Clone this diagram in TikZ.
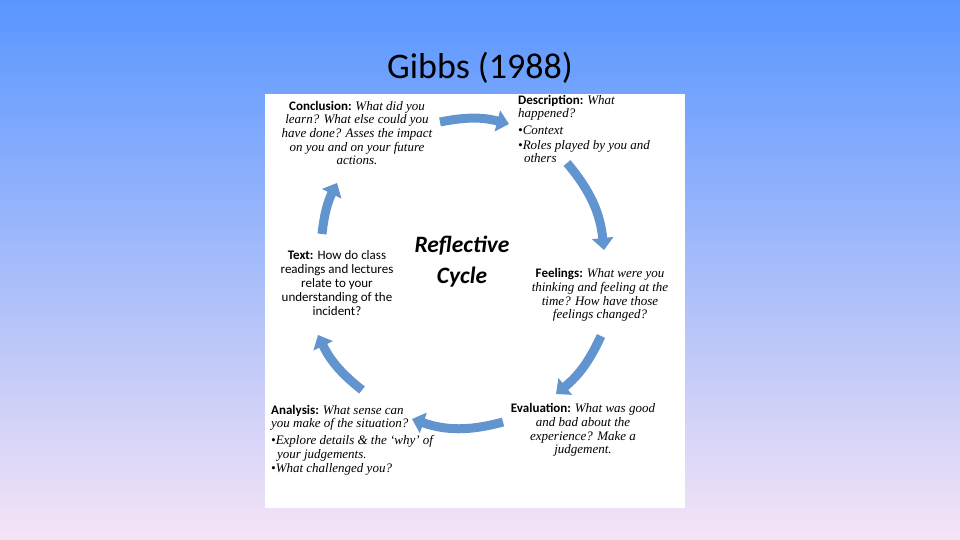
\documentclass[tikz,border=0pt]{standalone}
\usepackage{fontspec}
\setmainfont{Carlito}
\newfontfamily\cambria{Liberation Serif}
\usetikzlibrary{arrows.meta}
\definecolor{skytop}{RGB}{88,150,255}
\definecolor{skymid}{RGB}{165,203,242}
\definecolor{skylow}{RGB}{246,228,246}
\definecolor{cyclearrow}{RGB}{98,148,208}

\begin{document}
\begin{tikzpicture}[x=1pt, y=-1pt,
    stage/.style={inner sep=0pt, font=\fontsize{13}{13.7}\selectfont},
    cyc/.style={draw=cyclearrow, line width=9pt, -{Triangle[width=21pt, length=12pt]}}]
    \def\q#1{{\cambria\itshape #1}}
    \def\hd#1{\textbf{#1}}
    % backdrop and panel
    \shade[top color=skytop, middle color=skymid, bottom color=skylow] (0,0) rectangle (960,540);
    \fill[white] (265,94) rectangle (685,508);
    \node (title) at (480,68) {\fontsize{36}{40}\selectfont Gibbs (1988)};
    % stages
    \node[stage, align=center] (concl) at (357,133) {\hd{Conclusion:} \q{What did you}\\ \q{learn? What else could you}\\ \q{have done? Asses the impact}\\ \q{on you and on your future}\\ \q{actions.}};
    \node[stage, align=left, anchor=west] (descr) at (518,129) {\hd{Description:} \q{What}\\ \q{happened?}\\[3pt] \q{•Context}\\[1pt] \q{•Roles played by you and}\\ \q{\hspace{0.45em}others}};
    \node[stage, align=center] (feel) at (600,295) {\hd{Feelings:} \q{What were you}\\ \q{thinking and feeling at the}\\ \q{time? How have those}\\ \q{feelings changed?}};
    \node[stage, align=center] (eval) at (583,430) {\hd{Evaluation:} \q{What was good}\\ \q{and bad about the}\\ \q{experience? Make a}\\ \q{judgement.}};
    \node[stage, align=left, anchor=west] (anal) at (271,440) {\hd{Analysis:} \q{What sense can}\\ \q{you make of the situation?}\\[3pt] \q{•Explore details \& the ‘why’ of}\\ \q{\hspace{0.45em}your judgements.}\\ \q{•What challenged you?}};
    \node[stage, align=center, font=\fontsize{13}{14}\selectfont] (text) at (337,283) {\hd{Text:} How do class\\ readings and lectures\\ relate to your\\ understanding of the\\ incident?};
    \node[font=\fontsize{23.5}{31}\selectfont\bfseries\itshape, align=center] (cycle) at (462,262) {Reflective\\ Cycle};
    % arrows round the cycle
    \coordinate (c1a) at (440,122); \coordinate (c1b) at (509,124);
    \coordinate (c2a) at (567,163); \coordinate (c2b) at (604,250);
    \coordinate (c3a) at (601,336); \coordinate (c3b) at (556,394);
    \coordinate (c4a) at (503,422); \coordinate (c4b) at (412,419);
    \coordinate (c5a) at (362,390); \coordinate (c5b) at (318,335);
    \coordinate (c6a) at (322,234); \coordinate (c6b) at (337,183);
    \foreach \a/\b/\ang in {c1a/c1b/13, c2a/c2b/17, c3a/c3b/13, c4a/c4b/17, c5a/c5b/13, c6a/c6b/10}
        \draw[cyc] (\a) to[bend left=\ang] (\b);
\end{tikzpicture}
\end{document}
